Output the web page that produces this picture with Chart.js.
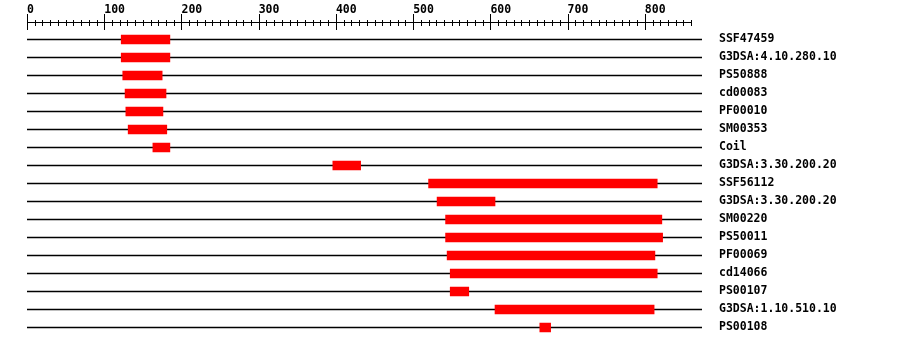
<!DOCTYPE html>
<html>
<head>
<meta charset="utf-8">
<script src="https://cdn.jsdelivr.net/npm/chart.js@4"></script>
<style>
  html, body { margin: 0; padding: 0; background: #fff; }
  #wrap { width: 900px; height: 346px; position: relative; }
</style>
</head>
<body>
<div id="wrap"><canvas id="chart"></canvas></div>
<script>
//-----------------------------------------------------------------------------
// Data
//-----------------------------------------------------------------------------

var seqLength = 874;

var domainNames = [
  'SSF47459', 'G3DSA:4.10.280.10', 'PS50888', 'cd00083', 'PF00010',
  'SM00353', 'Coil', 'G3DSA:3.30.200.20', 'SSF56112', 'G3DSA:3.30.200.20',
  'SM00220', 'PS50011', 'PF00069', 'cd14066', 'PS00107',
  'G3DSA:1.10.510.10', 'PS00108'
];

var domainStart = [122, 122, 124, 127, 128, 131, 163, 396, 520, 531,
                   542, 542, 544, 548, 548, 606, 664];
var domainEnd   = [185, 185, 175, 180, 176, 181, 185, 432, 816, 606,
                   822, 823, 813, 816, 572, 812, 678];

var majorTicks = [0, 100, 200, 300, 400, 500, 600, 700, 800];
var minorStep = 10;

//-----------------------------------------------------------------------------
// Helpers
//-----------------------------------------------------------------------------

var labelFont = { family: '"DejaVu Sans Mono", monospace', size: 11.5, weight: 'bold' };

// axis line + crossing tick marks, drawn from the x scale's own ticks
var rulerPlugin = {
  id: 'ruler',
  afterDraw: function(chart) {
    var scale = chart.scales.x, ctx = chart.ctx;
    var base = Math.round(scale.bottom);
    var first = Math.round(scale.getPixelForValue(scale.ticks[0].value));
    var last = Math.round(scale.getPixelForValue(scale.ticks[scale.ticks.length - 1].value));
    ctx.save();
    ctx.strokeStyle = '#000';
    ctx.lineWidth = 1;
    ctx.beginPath();
    ctx.moveTo(first, base - 8.5);
    ctx.lineTo(last + 1, base - 8.5);
    scale.ticks.forEach(function(t) {
      var x = Math.round(scale.getPixelForValue(t.value)) + 0.5;
      var major = majorTicks.indexOf(t.value) !== -1;
      ctx.moveTo(x, base - (major ? 17 : 11));
      ctx.lineTo(x, base - (major ? 1 : 5));
    });
    ctx.stroke();
    ctx.restore();
  }
};

//-----------------------------------------------------------------------------
// Chart
//-----------------------------------------------------------------------------

var tracks = domainNames.map(function() { return [0, seqLength]; });
var domains = domainNames.map(function(n, i) { return [domainStart[i], domainEnd[i]]; });

new Chart(document.getElementById('chart'), {
  type: 'bar',
  data: {
    labels: domainNames,
    datasets: [
      { label: 'domain', data: domains, backgroundColor: '#ff0000',
        barThickness: 9, borderWidth: 0, grouped: false, order: 0 },
      { label: 'sequence', data: tracks, backgroundColor: '#000000',
        barThickness: 1, borderWidth: 0, grouped: false, order: 1 }
    ]
  },
  options: {
    indexAxis: 'y',
    responsive: true,
    maintainAspectRatio: false,
    animation: false,
    layout: { padding: { left: 27, top: 0, right: 0, bottom: 9.5 } },
    plugins: { legend: { display: false }, tooltip: { enabled: false } },
    scales: {
      x: {
        type: 'linear',
        position: 'top',
        min: 0,
        max: seqLength,
        grid: { display: false, drawTicks: false },
        border: { display: false },
        afterBuildTicks: function(s) {
          s.ticks = s.ticks.filter(function(t) { return t.value % minorStep === 0; });
        },
        afterFit: function(s) {
          s.height = 30.5;
          s.paddingLeft = 0;
          s.paddingRight = 0;
        },
        ticks: {
          stepSize: minorStep,
          autoSkip: false,
          maxRotation: 0,
          align: 'start',
          padding: 14,
          color: '#000',
          font: labelFont,
          callback: function(v) { return majorTicks.indexOf(v) !== -1 ? String(v) : ''; }
        }
      },
      y: {
        position: 'right',
        grid: { display: false, drawTicks: false },
        border: { display: false },
        afterFit: function(s) {
          s.width = 198;
          s.paddingTop = 0;
          s.paddingBottom = 0;
        },
        ticks: { padding: 17, color: '#000', font: labelFont, autoSkip: false }
      }
    }
  },
  plugins: [rulerPlugin]
});
</script>
</body>
</html>
